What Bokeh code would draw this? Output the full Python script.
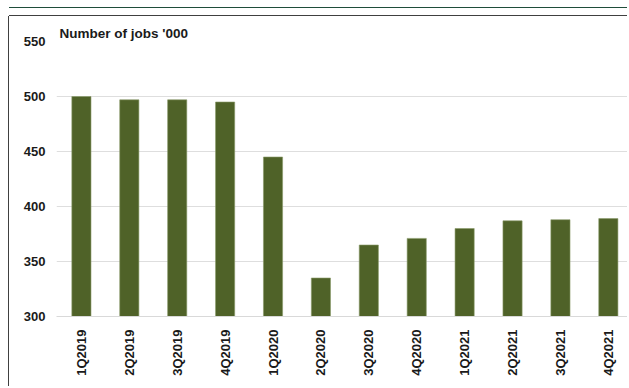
from bokeh.plotting import figure
from bokeh.models import Range1d, FixedTicker, Title, ColumnDataSource
from bokeh.embed import file_html
from bokeh.resources import INLINE

quarters = ["1Q2019", "2Q2019", "3Q2019", "4Q2019", "1Q2020", "2Q2020",
            "3Q2020", "4Q2020", "1Q2021", "2Q2021", "3Q2021", "4Q2021"]
jobs = [500, 497, 497, 495, 445, 335, 365, 371, 380, 387, 388, 389]
y_ticks = [300, 350, 400, 450, 500, 550]
title_text = "Number of jobs '000"

FONT = "Liberation Sans"

xs = list(range(len(quarters)))
src = ColumnDataSource(dict(x=xs, top=jobs))

p = figure(width=618, height=370, output_backend="svg", toolbar_location=None,
           x_range=Range1d(-0.52, 11.40), y_range=Range1d(300, 550),
           min_border_left=47, min_border_right=0, min_border_top=25,
           min_border_bottom=70, margin=(16, 0, 0, 9),
           styles={"box-shadow": "0 -1px 0 0 #404040, -1px 0 0 0 #404040, "
                                 "0 -8px 0 0 #ffffff, 0 -9px 0 0 #1f4d3a"})
p.outline_line_color = None
p.background_fill_color = "white"
p.border_fill_color = "white"

p.vbar(x="x", top="top", bottom=300, width=0.4, source=src,
       fill_color="#4F6228", line_color="#8a9a6a", line_width=0.6)

# axes
p.yaxis.ticker = FixedTicker(ticks=y_ticks)
p.yaxis.axis_line_color = None
p.yaxis.major_tick_line_color = None
p.yaxis.minor_tick_line_color = None
p.yaxis.major_label_standoff = 5
p.yaxis.major_label_text_font = FONT
p.yaxis.major_label_text_font_style = "bold"
p.yaxis.major_label_text_font_size = "13px"
p.yaxis.major_label_text_color = "#1a1a1a"

p.xaxis.ticker = FixedTicker(ticks=xs)
p.xaxis.major_label_overrides = {i: q for i, q in enumerate(quarters)}
p.xaxis.axis_line_color = "#d9d9d9"
p.xaxis.major_tick_line_color = None
p.xaxis.minor_tick_line_color = None
p.xaxis.major_label_orientation = 1.5707963
p.xaxis.major_label_standoff = 7
p.xaxis.major_label_text_font = FONT
p.xaxis.major_label_text_font_style = "bold"
p.xaxis.major_label_text_font_size = "13px"
p.xaxis.major_label_text_color = "#1a1a1a"

p.xgrid.grid_line_color = None
p.ygrid.ticker = FixedTicker(ticks=y_ticks)
p.ygrid.grid_line_color = "#dedede"
p.ygrid.grid_line_width = 1

# title
p.add_layout(Title(text=title_text, align="left", offset=3, standoff=2,
                   text_font=FONT, text_font_style="bold",
                   text_font_size="13.5px", text_color="#1a1a1a"), "above")

open("out.html", "w").write(file_html(p, INLINE))
